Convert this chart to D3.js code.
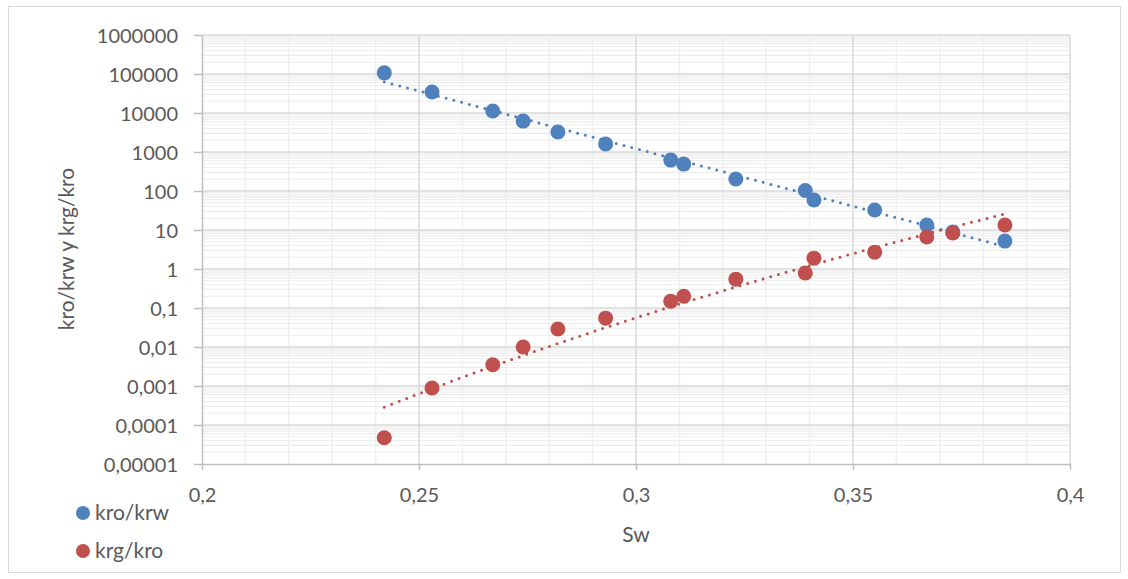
<!DOCTYPE html>
<html>
<head>
<meta charset="utf-8">
<script src="https://cdn.jsdelivr.net/npm/d3@7"></script>
<style>
  html, body { margin: 0; padding: 0; background: #ffffff; }
  svg { display: block; }
  text { font-family: Lato, "Open Sans", sans-serif; fill: #595959; }
</style>
</head>
<body>
<svg id="chart" width="1128" height="579"></svg>
<script>
// ---- data ----
const sw = [0.242, 0.253, 0.267, 0.274, 0.282, 0.293, 0.308, 0.311, 0.323, 0.339, 0.341, 0.355, 0.367, 0.373, 0.385];
const kroKrw = [107000, 34600, 11300, 6200, 3250, 1610, 620, 490, 203, 103, 59, 32.6, 13.4, 8.9, 5.2];
const krgKro = [0.000047, 0.00089, 0.0035, 0.010, 0.029, 0.055, 0.15, 0.20, 0.55, 0.79, 1.9, 2.7, 6.6, 8.4, 13.4];
const seriesNames = ["kro/krw", "krg/kro"];
const seriesColors = ["#4F81BD", "#C0504D"];
const trendTypes = ["exponential", "power"];
const xTickValues = [0.2, 0.25, 0.3, 0.35, 0.4];
const xTickLabels = ["0,2", "0,25", "0,3", "0,35", "0,4"];
const yTickValues = [1e-5, 1e-4, 1e-3, 1e-2, 1e-1, 1, 10, 100, 1000, 1e4, 1e5, 1e6];
const yTickLabels = ["0,00001", "0,0001", "0,001", "0,01", "0,1", "1", "10", "100", "1000", "10000", "100000", "1000000"];
const xTitle = "Sw";
const yTitle = "kro/krw y krg/kro";

// ---- layout ----
const svg = d3.select("#chart");
const pLeft = 202, pRight = 1070, pTop = 35, pBottom = 464;

svg.append("rect")
  .attr("x", 8.5).attr("y", 6.5).attr("width", 1112).attr("height", 566)
  .attr("fill", "#fff").attr("stroke", "#d9d9d9").attr("stroke-width", 1);

const x = d3.scaleLinear().domain([0.2, 0.4]).range([pLeft, pRight]);
const y = d3.scaleLog().domain([1e-5, 1e6]).range([pBottom, pTop]);

// minor gridlines
const g = svg.append("g");
const minorX = d3.range(0.21, 0.4, 0.01).filter(v => Math.abs(v * 20 - Math.round(v * 20)) > 1e-6);
g.selectAll(".mx").data(minorX).enter().append("line")
  .attr("x1", d => x(d)).attr("x2", d => x(d)).attr("y1", pTop).attr("y2", pBottom)
  .attr("stroke", "#f0f0f0").attr("stroke-width", 1.5);
const minorY = [];
for (let e = -5; e < 6; e++) for (let m = 2; m <= 9; m++) minorY.push(m * Math.pow(10, e));
g.selectAll(".my").data(minorY).enter().append("line")
  .attr("x1", pLeft).attr("x2", pRight).attr("y1", d => y(d)).attr("y2", d => y(d))
  .attr("stroke", "#ededed").attr("stroke-width", 1.2);
// major gridlines
g.selectAll(".Mx").data(xTickValues.slice(1)).enter().append("line")
  .attr("x1", d => x(d)).attr("x2", d => x(d)).attr("y1", pTop).attr("y2", pBottom)
  .attr("stroke", "#d9d9d9").attr("stroke-width", 1.5);
g.selectAll(".My").data(yTickValues.slice(1)).enter().append("line")
  .attr("x1", pLeft).attr("x2", pRight).attr("y1", d => y(d)).attr("y2", d => y(d))
  .attr("stroke", "#d9d9d9").attr("stroke-width", 1.5);

// axes
const xAxis = d3.axisBottom(x).tickValues(xTickValues)
  .tickFormat((d, i) => xTickLabels[i]).tickSizeInner(6).tickSizeOuter(0).tickPadding(18);
const yAxis = d3.axisLeft(y).tickValues(yTickValues)
  .tickFormat((d, i) => yTickLabels[i]).tickSizeInner(8).tickSizeOuter(0).tickPadding(16);

const gx = svg.append("g").attr("transform", `translate(0,${pBottom})`).call(xAxis);
const gy = svg.append("g").attr("transform", `translate(${pLeft},0)`).call(yAxis);
[gx, gy].forEach(a => {
  a.select(".domain").attr("stroke", "#bfbfbf").attr("stroke-width", 1.5);
  a.selectAll(".tick line").attr("stroke", "#bfbfbf").attr("stroke-width", 1.5);
  a.selectAll(".tick text").style("font-family", "Lato, sans-serif").style("font-size", "20px").attr("fill", "#595959");
});
gy.selectAll(".tick text").attr("dy", "0.35em");

// trendlines (least squares fits, as in a spreadsheet trendline)
function linReg(xs, ys) {
  const mx = d3.mean(xs), my = d3.mean(ys);
  let sxy = 0, sxx = 0;
  for (let i = 0; i < xs.length; i++) { sxy += (xs[i] - mx) * (ys[i] - my); sxx += (xs[i] - mx) ** 2; }
  const b = sxy / sxx;
  return { a: my - b * mx, b };
}
function fitTrend(type, xs, ys) {
  const ly = ys.map(Math.log);
  if (type === "power") {
    const r = linReg(xs.map(Math.log), ly);
    return v => Math.exp(r.a + r.b * Math.log(v));
  }
  const r = linReg(xs, ly);
  return v => Math.exp(r.a + r.b * v);
}
const allSeries = [kroKrw, krgKro];
allSeries.forEach((vals, si) => {
  const f = fitTrend(trendTypes[si], sw, vals);
  const xs = d3.range(0, 101).map(i => d3.min(sw) + (d3.max(sw) - d3.min(sw)) * i / 100);
  svg.append("path")
    .attr("d", d3.line().x(d => x(d)).y(d => y(f(d)))(xs))
    .attr("fill", "none").attr("stroke", seriesColors[si])
    .attr("stroke-width", 3).attr("stroke-linecap", "round")
    .attr("stroke-dasharray", "0 8");
});

// points
allSeries.forEach((vals, si) => {
  svg.append("g").selectAll("circle").data(sw).enter().append("circle")
    .attr("cx", d => x(d)).attr("cy", (d, i) => y(vals[i]))
    .attr("r", 7.5).attr("fill", seriesColors[si]);
});

// titles
svg.append("text").attr("x", 636).attr("y", 542).attr("text-anchor", "middle")
  .style("font-size", "21px").text(xTitle);
svg.append("text").attr("transform", "translate(74,249) rotate(-90)").attr("text-anchor", "middle")
  .style("font-size", "21px").text(yTitle);

// legend
seriesNames.forEach((name, i) => {
  const ly = 513 + i * 38;
  svg.append("circle").attr("cx", 83).attr("cy", ly).attr("r", 7).attr("fill", seriesColors[i]);
  svg.append("text").attr("x", 95).attr("y", ly + 7).style("font-size", "21px").text(name);
});
</script>
</body>
</html>
